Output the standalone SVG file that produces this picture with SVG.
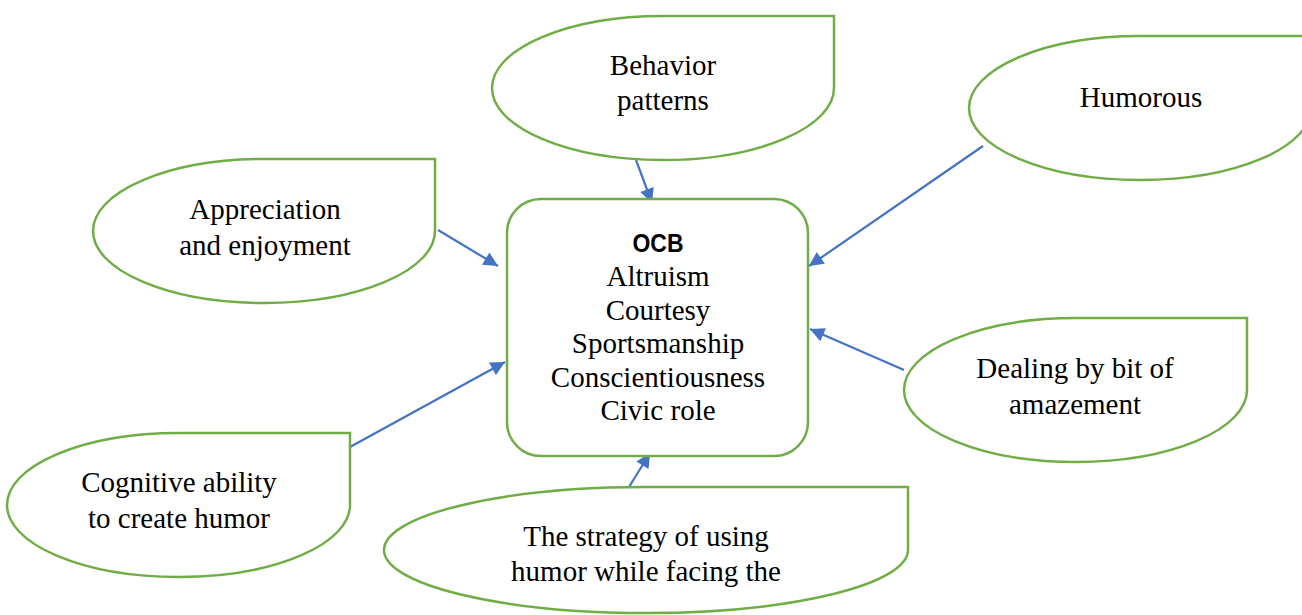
<svg xmlns="http://www.w3.org/2000/svg" width="1302" height="615" viewBox="0 0 1302 615">
<style>
.shape{fill:#ffffff;stroke:#70AD47;stroke-width:2.5}
.t{font-family:"Liberation Serif","Times New Roman",serif;font-size:29px;fill:#000;text-anchor:middle}
.b{font-family:"Liberation Sans",Arial,sans-serif;font-size:26px;font-weight:bold;fill:#000;text-anchor:middle}
.c{stroke:#4472C4;stroke-width:2.2;fill:none;marker-end:url(#ah)}
</style>
<defs>
<marker id="ah" viewBox="0 0 10 10" refX="10" refY="5" markerWidth="7.5" markerHeight="6.5" markerUnits="strokeWidth" orient="auto">
<path d="M0,0 L10,5 L0,10 Z" fill="#4472C4"/>
</marker>
</defs>
<rect width="1302" height="615" fill="#ffffff"/>
<g id="connectors">
<line class="c" x1="636" y1="160" x2="652" y2="203"/>
<line class="c" x1="983" y1="146" x2="809" y2="266"/>
<line class="c" x1="438" y1="230" x2="498" y2="266"/>
<line class="c" x1="904" y1="370" x2="810" y2="329"/>
<line class="c" x1="350" y1="447" x2="505" y2="362"/>
<line class="c" x1="629" y1="487" x2="650" y2="453"/>
</g>
<g id="ocb">
<rect class="shape" x="507" y="199" width="301" height="257" rx="34" ry="34"/>
<text class="b" x="658" y="252" textLength="51" lengthAdjust="spacingAndGlyphs">OCB</text>
<text class="t" x="658" y="286">Altruism</text>
<text class="t" x="658" y="320">Courtesy</text>
<text class="t" x="658" y="353">Sportsmanship</text>
<text class="t" x="658" y="387">Conscientiousness</text>
<text class="t" x="658" y="420">Civic role</text>
</g>
<g id="behavior">
<path class="shape" d="M492,88 A171,72 0 0 1 663,16 L834,16 L834,88 A171,72 0 0 1 663,160 A171,72 0 0 1 492,88 Z"/>
<text class="t" x="663" y="75">Behavior</text>
<text class="t" x="663" y="110">patterns</text>
</g>
<g id="humorous">
<path class="shape" d="M969,108 A171,72 0 0 1 1140,36 L1311,36 L1311,108 A171,72 0 0 1 1140,180 A171,72 0 0 1 969,108 Z"/>
<text class="t" x="1141" y="107">Humorous</text>
</g>
<g id="appreciation">
<path class="shape" d="M93,231 A171,72 0 0 1 264,159 L435,159 L435,231 A171,72 0 0 1 264,303 A171,72 0 0 1 93,231 Z"/>
<text class="t" x="265" y="219">Appreciation</text>
<text class="t" x="265" y="255">and enjoyment</text>
</g>
<g id="dealing">
<path class="shape" d="M904,390 A171.5,72 0 0 1 1075.5,318 L1247,318 L1247,390 A171.5,72 0 0 1 1075.5,462 A171.5,72 0 0 1 904,390 Z"/>
<text class="t" x="1075" y="378">Dealing by bit of</text>
<text class="t" x="1075" y="414">amazement</text>
</g>
<g id="cognitive">
<path class="shape" d="M7,505 A171.5,72 0 0 1 178.5,433 L350,433 L350,505 A171.5,72 0 0 1 178.5,577 A171.5,72 0 0 1 7,505 Z"/>
<text class="t" x="179" y="492">Cognitive ability</text>
<text class="t" x="179" y="528">to create humor</text>
</g>
<g id="strategy">
<path class="shape" d="M384,550 A262,63 0 0 1 646,487 L908,487 L908,550 A262,63 0 0 1 646,613 A262,63 0 0 1 384,550 Z"/>
<text class="t" x="646" y="546">The strategy of using</text>
<text class="t" x="646" y="581">humor while facing the</text>
</g>
</svg>
